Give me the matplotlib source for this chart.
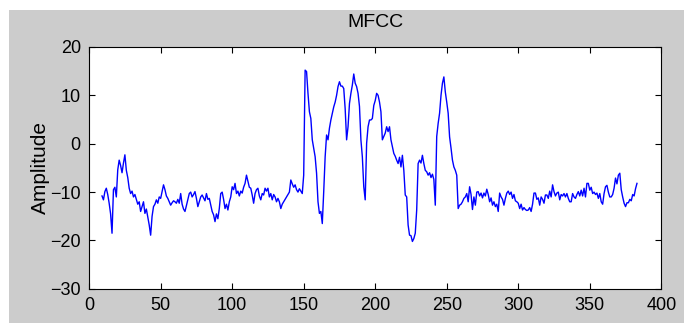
import numpy as np
import matplotlib.pyplot as plt
from matplotlib.patches import Rectangle

# MFCC amplitude per frame (frames start at 9)
amplitude = [
    -10.8, -11.6, -9.9, -9.2, -10.5, -12.3, -14.5, -18.5, -9.5, -9.0,      # 9-18
    -11.0, -5.4, -3.4, -4.5, -6.0, -4.0, -2.3, -5.5, -7.0, -9.2,           # 19-28
    -10.3, -9.8, -11.0, -10.5, -11.5, -12.5, -12.0, -14.0, -13.0, -12.0,   # 29-38
    -14.4, -13.5, -15.1, -16.8, -18.9, -15.0, -13.0, -12.5, -11.6, -12.3,  # 39-48
    -11.0, -11.3, -9.9, -8.5, -9.5, -10.8, -11.3, -12.0, -12.7, -12.2,     # 49-58
    -11.8, -12.0, -12.3, -11.5, -12.3, -10.3, -12.5, -13.5, -14.0, -12.8,  # 59-68
    -11.5, -10.3, -10.0, -11.0, -10.5, -9.9, -11.3, -13.0, -12.0, -11.0,   # 69-78
    -10.6, -11.2, -11.8, -10.3, -11.5, -11.3, -12.7, -14.0, -14.7, -16.1,  # 79-88
    -14.5, -15.5, -13.4, -10.3, -10.0, -11.5, -13.4, -12.5, -13.7, -12.0,  # 89-98
    -11.0, -8.9, -9.5, -8.2, -10.3, -9.8, -10.8, -9.8, -10.2, -9.0,        # 99-108
    -8.2, -6.5, -7.8, -9.0, -9.2, -10.6, -12.3, -10.3, -9.5, -9.2,         # 109-118
    -10.8, -11.6, -10.3, -10.6, -9.2, -9.8, -9.2, -11.0, -10.3, -11.6,     # 119-128
    -10.5, -11.0, -12.0, -11.3, -12.0, -13.4, -12.5, -12.0, -11.5, -11.0,  # 129-138
    -10.5, -10.0, -7.5, -8.3, -9.0, -8.5, -9.5, -10.0, -9.3, -9.8,         # 139-148
    -10.3, -6.5, 15.2, 14.9, 10.4, 6.6, 5.2, 0.8, -0.9, -2.7,              # 149-158
    -6.1, -12.0, -14.4, -14.0, -16.5, -9.9, -2.7, 1.8, 0.8, 3.2,           # 159-168
    4.9, 6.3, 7.6, 8.6, 10.0, 11.8, 12.8, 11.9, 11.9, 11.4,                # 169-178
    7.2, 0.8, 3.5, 8.3, 10.4, 12.1, 14.4, 12.5, 11.8, 10.4,                # 179-188
    7.7, 0.8, -2.7, -8.9, -11.6, 0.1, 3.5, 4.9, 4.9, 5.2,                  # 189-198
    7.9, 8.9, 10.4, 10.0, 8.6, 6.6, 0.8, 1.5, 2.2, 3.5,                    # 199-208
    2.5, 3.5, 0.8, -0.6, -2.0, -2.6, -3.4, -4.1, -2.8, -4.8,               # 209-218
    -2.4, -5.5, -10.6, -11.0, -16.8, -18.9, -19.0, -20.2, -19.6, -18.5,    # 219-228
    -13.7, -4.1, -3.4, -4.0, -2.4, -4.1, -5.5, -5.8, -6.5, -6.0,           # 229-238
    -7.0, -6.3, -7.4, -12.7, 1.5, 4.2, 6.3, 10.0, 12.5, 13.8,              # 239-248
    10.7, 8.6, 6.3, 1.4, -0.9, -3.4, -4.8, -5.5, -6.5, -13.4,              # 249-258
    -12.7, -12.5, -12.0, -11.3, -11.0, -10.3, -12.0, -8.9, -10.5, -13.6,   # 259-268
    -11.0, -12.7, -10.0, -9.9, -10.8, -10.2, -11.2, -10.2, -10.8, -9.4,    # 269-278
    -10.5, -12.0, -11.2, -12.7, -12.0, -13.0, -12.5, -14.0, -10.2, -11.0,  # 279-288
    -11.5, -12.7, -11.3, -10.2, -9.8, -10.5, -10.0, -11.3, -10.5, -11.8,   # 289-298
    -12.0, -12.3, -13.4, -12.5, -13.7, -13.2, -13.6, -13.8, -13.7, -13.2,  # 299-308
    -14.0, -12.5, -10.2, -10.2, -11.5, -11.2, -12.7, -11.0, -11.5, -12.3,  # 309-318
    -10.6, -10.6, -11.3, -9.8, -11.0, -8.5, -9.9, -10.8, -10.2, -10.0,     # 319-328
    -11.6, -10.5, -10.8, -10.3, -11.0, -10.3, -11.3, -12.0, -12.0, -10.3,  # 329-338
    -11.0, -11.3, -10.5, -9.9, -10.8, -9.6, -10.8, -9.2, -11.0, -8.2,      # 339-348
    -8.2, -9.6, -9.0, -10.3, -10.0, -10.5, -10.2, -11.3, -10.3, -12.0,     # 349-358
    -12.5, -10.3, -8.9, -8.6, -10.0, -11.0, -11.0, -10.5, -9.2, -7.1,      # 359-368
    -8.3, -6.5, -6.1, -9.5, -11.0, -12.3, -13.0, -12.2, -12.2, -11.5,      # 369-378
    -11.8, -10.5, -10.8, -9.3, -8.2,                                       # 379-383
]
frames = np.arange(9, 9 + len(amplitude))

plt.rcParams['font.family'] = ['Liberation Sans', 'DejaVu Sans']

fig = plt.figure(figsize=(6.91, 3.23), dpi=100, facecolor='white')
# grey matlab figure area
fig.patches.append(Rectangle((9 / 691, 0), 675 / 691, 313 / 323,
                             transform=fig.transFigure, facecolor='#cccccc',
                             edgecolor='none', zorder=-10))

ax = fig.add_axes([0.129, 0.1056, 0.828, 0.7492])
ax.set_facecolor('white')
ax.plot(frames, amplitude, color='#0000ff', lw=1.0)

ax.set_xlim(0, 400)
ax.set_ylim(-30, 20)
ax.set_xticks(np.arange(0, 401, 50))
ax.set_yticks(np.arange(-30, 21, 10))
ax.tick_params(direction='in', top=True, right=True, length=4, width=0.8,
               labelsize=13, colors='black', pad=6)
for s in ax.spines.values():
    s.set_linewidth(0.8)

ax.set_title('MFCC', fontsize=14, pad=14)
ax.set_ylabel('Amplitude', fontsize=15, labelpad=0)

fig.savefig('out.png', dpi=100, facecolor=fig.get_facecolor())
